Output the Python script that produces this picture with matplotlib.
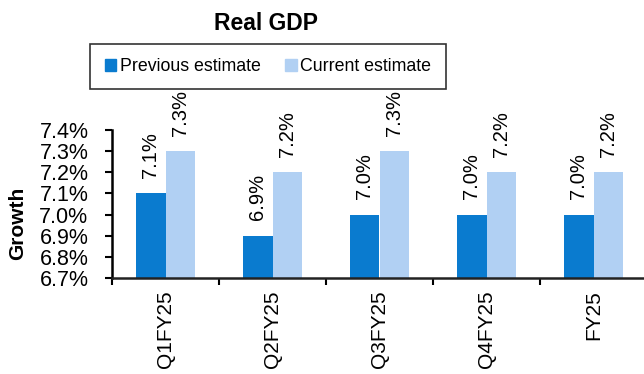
import numpy as np
import matplotlib.pyplot as plt
from matplotlib.patches import Patch

plt.rcParams['font.family'] = ['Liberation Sans', 'DejaVu Sans']

categories = ['Q1FY25', 'Q2FY25', 'Q3FY25', 'Q4FY25', 'FY25']
previous = [7.1, 6.9, 7.0, 7.0, 7.0]
current = [7.3, 7.2, 7.3, 7.2, 7.2]
yticks = [6.7, 6.8, 6.9, 7.0, 7.1, 7.2, 7.3, 7.4]

c_prev = '#0A7BCF'
c_curr = '#B1D0F3'

fig = plt.figure(figsize=(6.44, 3.74), dpi=100)
ax = fig.add_axes([112 / 644, 1 - 278 / 374, 535 / 644, 148 / 374])

x = np.arange(len(categories))
w = 0.28
ax.bar(x - w / 2, np.array(previous) - 6.7, w, bottom=6.7, color=c_prev, linewidth=0)
ax.bar(x + w / 2, np.array(current) - 6.7, w, bottom=6.7, color=c_curr, linewidth=0)

for xs, vals in ((x - w / 2, previous), (x + w / 2, current)):
    for xi, v in zip(xs, vals):
        ax.annotate('%.1f%%' % v, (xi, v), xytext=(0, 11), textcoords='offset points',
                    ha='center', va='bottom', rotation=90, fontsize=14.5,
                    annotation_clip=False)

ax.set_xlim(-0.5, 4.5)
ax.set_ylim(6.7, 7.4)
ax.set_yticks(yticks)
ax.set_yticklabels(['%.1f%%' % t for t in yticks], fontsize=15.5)
ax.set_xticks(x)
ax.set_xticklabels(categories, rotation=90, fontsize=15)
ax.set_xticks(np.arange(-0.5, 5, 1), minor=True)
ax.tick_params(axis='x', which='major', length=0, pad=9)
ax.tick_params(axis='x', which='minor', length=5, width=1.5, direction='out')
ax.tick_params(axis='y', length=5, width=1.5, pad=12)

for s in ('top', 'right'):
    ax.spines[s].set_visible(False)
ax.spines['left'].set_linewidth(1.8)
ax.spines['bottom'].set_linewidth(1.8)
ax.spines['bottom'].set_color('#222222')

fig.text(266 / 644, 1 - 24 / 374, 'Real GDP', ha='center', va='center',
         fontsize=16.5, fontweight='bold')
fig.text(18 / 644, 1 - 223 / 374, 'Growth', ha='center', va='center',
         rotation=90, fontsize=15, fontweight='bold')

handles = [Patch(color=c_prev), Patch(color=c_curr)]
leg = fig.legend(handles, ['Previous estimate', 'Current estimate'], ncol=2,
                 loc='center', bbox_to_anchor=(268 / 644, 1 - 66.5 / 374),
                 fontsize=12.8, frameon=True, fancybox=False, edgecolor='black',
                 handlelength=0.65, handleheight=0.65, handletextpad=0.2,
                 columnspacing=1.4, borderpad=0.8, borderaxespad=0)
leg.get_frame().set_linewidth(1.2)

fig.savefig('out.png', dpi=100)
